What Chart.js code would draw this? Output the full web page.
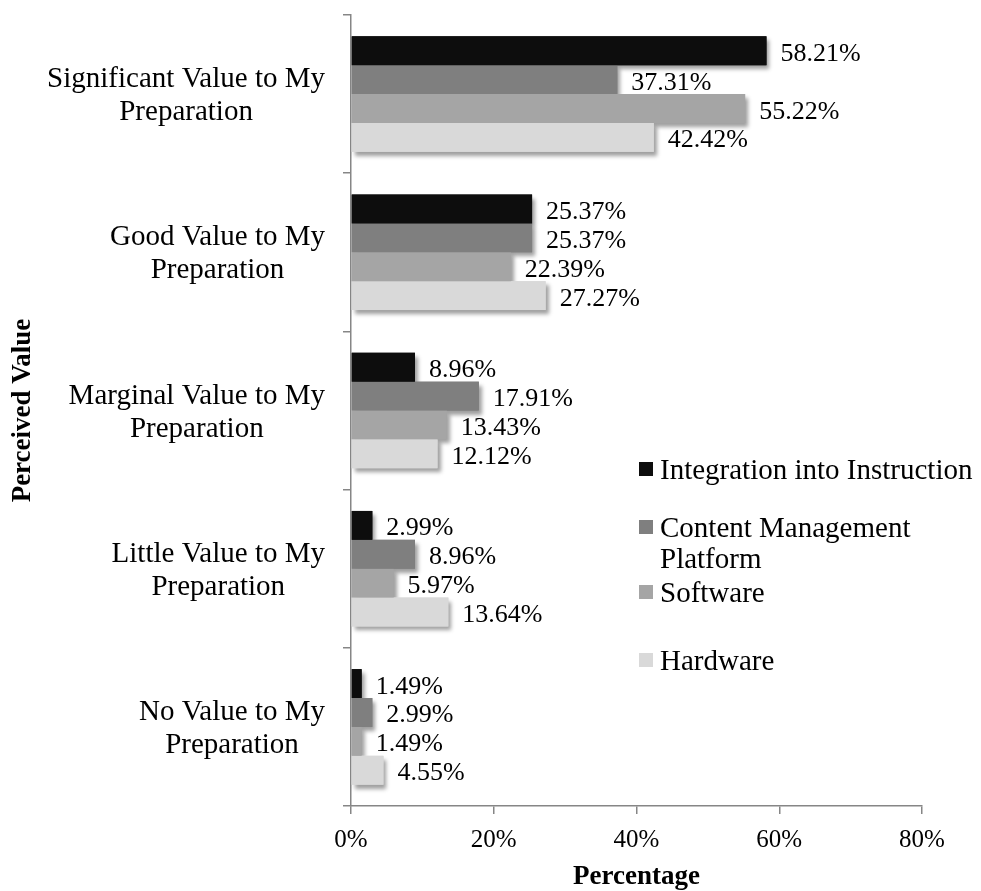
<!DOCTYPE html>
<html>
<head>
<meta charset="utf-8">
<script src="https://cdn.jsdelivr.net/npm/chart.js@4/dist/chart.umd.min.js"></script>
<style>
	html, body { margin: 0; padding: 0; background: #fff; }
	#wrap { width: 981px; height: 891px; }
</style>
</head>
<body>
<div id="wrap"><canvas id="chart" width="981" height="891"></canvas></div>
<script>
(function () {
	'use strict';

	// --- Data ---
	var CATEGORIES = [
		['Significant Value to My', 'Preparation'],
		['Good Value to My', 'Preparation'],
		['Marginal Value to My', 'Preparation'],
		['Little Value to My', 'Preparation'],
		['No Value to My', 'Preparation']
	];
	var SERIES = ['Integration into Instruction', 'Content Management Platform', 'Software', 'Hardware'];
	var INTEGRATION = [58.21, 25.37, 8.96, 2.99, 1.49];
	var CONTENT_MGMT = [37.31, 25.37, 17.91, 8.96, 2.99];
	var SOFTWARE = [55.22, 22.39, 13.43, 5.97, 1.49];
	var HARDWARE = [42.42, 27.27, 12.12, 13.64, 4.55];
	var X_MIN = 0, X_MAX = 80, X_STEP = 20;

	var COLORS = ['#0d0d0d', '#7f7f7f', '#a5a5a5', '#d9d9d9'];
	var AXIS = '#868686';
	var SERIF = "'Liberation Serif', 'Times New Roman', serif";

	Chart.defaults.font.family = SERIF;
	Chart.defaults.color = '#000';

	// Soft drop shadow under every bar, drawn before the bars themselves.
	var shadowPlugin = {
		id: 'barShadow',
		beforeDatasetsDraw: function (chart) {
			var ctx = chart.ctx;
			chart.data.datasets.forEach(function (ds, di) {
				var meta = chart.getDatasetMeta(di);
				meta.data.forEach(function (el) {
					var p = el.getProps(['x', 'y', 'base', 'height'], true);
					ctx.save();
					ctx.shadowColor = 'rgba(0,0,0,0.38)';
					ctx.shadowBlur = 4;
					ctx.shadowOffsetX = 3;
					ctx.shadowOffsetY = 4;
					ctx.fillStyle = ds.backgroundColor;
					ctx.fillRect(Math.min(p.base, p.x), p.y - p.height / 2, Math.abs(p.x - p.base), p.height);
					ctx.restore();
				});
			});
		}
	};

	// Value labels at bar ends.
	var valueLabels = {
		id: 'valueLabels',
		afterDatasetsDraw: function (chart) {
			var ctx = chart.ctx;
			ctx.save();
			ctx.font = '26px ' + SERIF;
			ctx.fillStyle = '#000';
			ctx.textAlign = 'left';
			ctx.textBaseline = 'alphabetic';
			chart.data.datasets.forEach(function (ds, di) {
				chart.getDatasetMeta(di).data.forEach(function (el, i) {
					ctx.fillText(ds.data[i].toFixed(2) + '%', el.x + 14, el.y + 10);
				});
			});
			ctx.restore();
		}
	};

	// Category labels: block right-aligned to the axis, lines centred on each other.
	var categoryLabels = {
		id: 'categoryLabels',
		afterDraw: function (chart) {
			var ctx = chart.ctx;
			var yScale = chart.scales.y;
			var right = chart.chartArea.left - 26;
			ctx.save();
			ctx.font = '29px ' + SERIF;
			ctx.fillStyle = '#000';
			ctx.textAlign = 'center';
			ctx.textBaseline = 'alphabetic';
			CATEGORIES.forEach(function (lines, i) {
				var cy = yScale.getPixelForValue(i);
				var w = 0;
				lines.forEach(function (l) { w = Math.max(w, ctx.measureText(l).width); });
				var cx = right - w / 2;
				ctx.fillText(lines[0], cx, cy - 7);
				ctx.fillText(lines[1], cx, cy + 26);
			});
			ctx.restore();
		}
	};

	// Legend sitting inside the plot area, lower right.
	var legendPlugin = {
		id: 'insideLegend',
		afterDraw: function (chart) {
			var ctx = chart.ctx;
			var baselines = [479, 537, 602, 670];
			var boxX = 639, textX = 660, maxW = 322, lineH = 31;
			ctx.save();
			ctx.font = '29px ' + SERIF;
			ctx.textAlign = 'left';
			ctx.textBaseline = 'alphabetic';
			chart.data.datasets.forEach(function (ds, di) {
				var y = baselines[di];
				ctx.fillStyle = ds.backgroundColor;
				ctx.fillRect(boxX, y - 17, 14, 14);
				ctx.fillStyle = '#000';
				// simple word wrap
				var words = ds.label.split(' ');
				var line = '';
				var lines = [];
				words.forEach(function (w) {
					var test = line ? line + ' ' + w : w;
					if (ctx.measureText(test).width > maxW && line) {
						lines.push(line);
						line = w;
					} else {
						line = test;
					}
				});
				lines.push(line);
				lines.forEach(function (l, li) {
					ctx.fillText(l, textX, y + li * lineH);
				});
			});
			ctx.restore();
		}
	};

	var seriesData = [INTEGRATION, CONTENT_MGMT, SOFTWARE, HARDWARE];
	var datasets = SERIES.map(function (name, i) {
		return {
			label: name,
			data: seriesData[i],
			backgroundColor: COLORS[i],
			borderWidth: 0,
			barPercentage: 1.0,
			categoryPercentage: 0.73
		};
	});

	new Chart(document.getElementById('chart'), {
		type: 'bar',
		data: { labels: CATEGORIES, datasets: datasets },
		options: {
			indexAxis: 'y',
			responsive: false,
			animation: false,
			events: [],
			layout: { padding: { top: 15, right: 59, left: 0, bottom: 0 } },
			plugins: {
				legend: { display: false },
				tooltip: { enabled: false }
			},
			scales: {
				x: {
					min: X_MIN,
					max: X_MAX,
					ticks: {
						stepSize: X_STEP,
						padding: 11,
						font: { size: 25 },
						color: '#000',
						callback: function (v) { return v + '%'; }
					},
					grid: { drawOnChartArea: false, drawTicks: true, tickLength: 8, color: AXIS, lineWidth: 1.5 },
					border: { color: AXIS, width: 1.5 },
					title: { display: true, text: 'Percentage', font: { size: 27, weight: 'bold', lineHeight: 1.0 }, color: '#000', padding: { top: 0, bottom: 0 } },
					afterFit: function (scale) { scale.height = 85; }
				},
				y: {
					offset: true,
					ticks: { display: false },
					grid: { offset: true, drawOnChartArea: false, drawTicks: true, tickLength: 8, color: AXIS, lineWidth: 1.5 },
					border: { color: AXIS, width: 1.5 },
					title: { display: true, text: 'Perceived Value', font: { size: 27, weight: 'bold' }, color: '#000', padding: { top: 7, bottom: 7 } },
					afterFit: function (scale) { scale.width = 351; }
				}
			}
		},
		plugins: [shadowPlugin, valueLabels, categoryLabels, legendPlugin]
	});
})();
</script>
</body>
</html>
